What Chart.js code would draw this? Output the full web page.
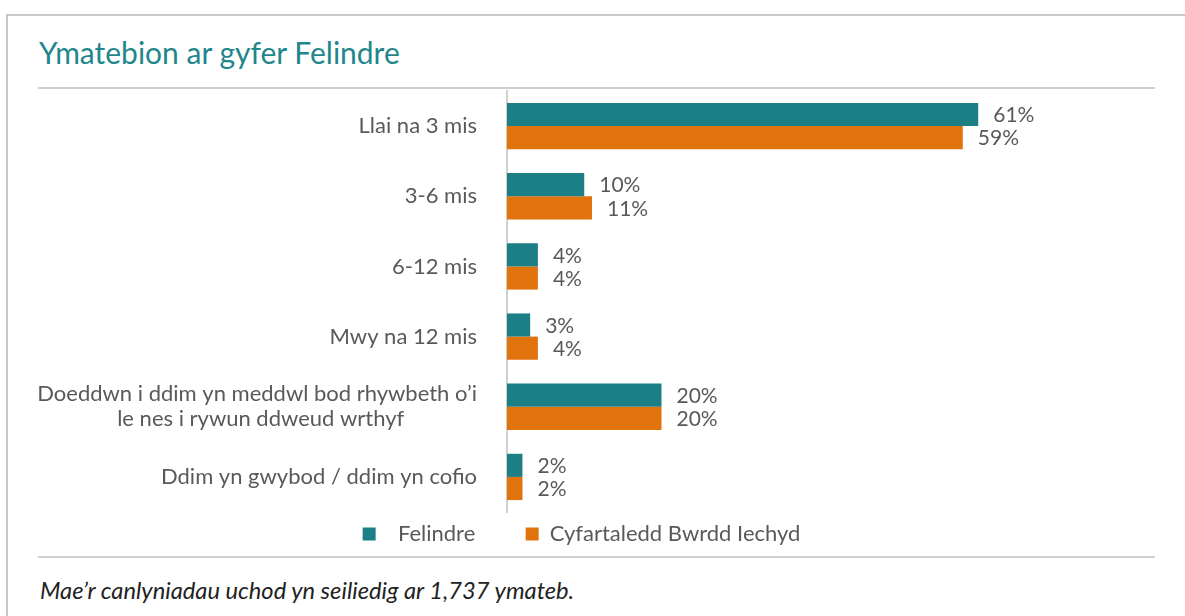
<!DOCTYPE html>
<html>
<head>
<meta charset="utf-8">
<script src="https://cdn.jsdelivr.net/npm/chart.js@4"></script>
<style>
    html, body { margin: 0; padding: 0; background: #fff; }
    body { width: 1185px; height: 616px; position: relative; overflow: hidden; font-family: Lato, 'Open Sans', sans-serif; }
    #frame { position: absolute; left: 6px; top: 14px; width: 1200px; height: 700px; border-left: 2px solid #c8c8c8; border-top: 2px solid #c8c8c8; }
    #title { position: absolute; left: 39px; top: 34px; font-size: 30px; color: #1f878c; white-space: nowrap; }
    .rule { position: absolute; left: 38px; width: 1117px; height: 0; border-top: 2px solid #d0d0d0; }
    #chart-box { position: absolute; left: 38px; top: 90px; width: 1117px; height: 465px; }
    #note { position: absolute; left: 40px; top: 576px; font-size: 23.7px; font-style: italic; color: #222; white-space: nowrap; }
</style>
</head>
<body>
<div id="frame"></div>
<div id="title">Ymatebion ar gyfer Felindre</div>
<div class="rule" style="top: 87px;"></div>
<div id="chart-box"><canvas id="respChart" width="1117" height="465"></canvas></div>
<div class="rule" style="top: 556px;"></div>
<div id="note">Mae’r canlyniadau uchod yn seiliedig ar 1,737 ymateb.</div>

<script>
// Data
const categories = [
    'Llai na 3 mis',
    '3-6 mis',
    '6-12 mis',
    'Mwy na 12 mis',
    ['Doeddwn i ddim yn meddwl bod rhywbeth o’i', 'le nes i rywun ddweud wrthyf'],
    'Ddim yn gwybod / ddim yn cofio'
];
const felindreValues = [61, 10, 4, 3, 20, 2];
const boardAverageValues = [59, 11, 4, 4, 20, 2];
const seriesNames = ['Felindre', 'Cyfartaledd Bwrdd Iechyd'];

const TEAL = '#1d7f86';
const ORANGE = '#e0730b';
const TEXT_GREY = '#595959';
const FONT = 'Lato, "Open Sans", sans-serif';
const NBSP = '\u00a0';

// Labeli gwerth wrth ymyl y barrau
const valueLabels = {
    id: 'valueLabels',
    afterDatasetsDraw(chart) {
        const ctx = chart.ctx;
        ctx.save();
        ctx.font = '21px ' + FONT;
        ctx.fillStyle = TEXT_GREY;
        ctx.textAlign = 'left';
        ctx.textBaseline = 'middle';
        chart.data.datasets.forEach((ds, i) => {
            const meta = chart.getDatasetMeta(i);
            meta.data.forEach((bar, j) => {
                ctx.fillText(ds.data[j] + '%', bar.x + 15, bar.y + 1);
            });
        });
        ctx.restore();
    }
};

const ctx = document.getElementById('respChart').getContext('2d');
new Chart(ctx, {
    type: 'bar',
    data: {
        labels: categories,
        datasets: [
            { label: seriesNames[0], data: felindreValues, backgroundColor: TEAL },
            { label: seriesNames[1], data: boardAverageValues, backgroundColor: ORANGE }
        ]
    },
    options: {
        indexAxis: 'y',
        responsive: false,
        animation: false,
        layout: { padding: { top: 1, right: 30, bottom: 0, left: 0 } },
        datasets: {
            bar: { categoryPercentage: 0.66, barPercentage: 1.0 }
        },
        plugins: {
            legend: {
                position: 'bottom',
                labels: {
                    boxWidth: 13,
                    boxHeight: 13,
                    padding: 11,
                    color: TEXT_GREY,
                    font: { family: FONT, size: 22 },
                    generateLabels(chart) {
                        const items = Chart.defaults.plugins.legend.labels.generateLabels(chart);
                        // bwlch fel yn Excel o gwmpas yr eitem gyntaf
                        items[0].text = NBSP.repeat(2) + items[0].text + NBSP.repeat(7);
                        return items;
                    }
                }
            },
            tooltip: { enabled: false }
        },
        scales: {
            x: {
                display: false,
                min: 0,
                max: 80
            },
            y: {
                afterFit(scale) {
                    scale.width = 469;
                    scale.paddingTop = 0;
                    scale.paddingBottom = 0;
                },
                grid: { display: false },
                border: { display: true, color: '#d0d0d0', width: 2 },
                ticks: {
                    padding: 22,
                    color: TEXT_GREY,
                    font: { family: FONT, size: 22, lineHeight: 1.15 },
                    callback(value) {
                        const label = this.getLabelForValue(value);
                        // canoli'r ail linell o dan y gyntaf
                        if (Array.isArray(label)) {
                            return [label[0], label[1] + NBSP.repeat(13)];
                        }
                        return label;
                    }
                }
            }
        }
    },
    plugins: [valueLabels]
});
</script>
</body>
</html>
